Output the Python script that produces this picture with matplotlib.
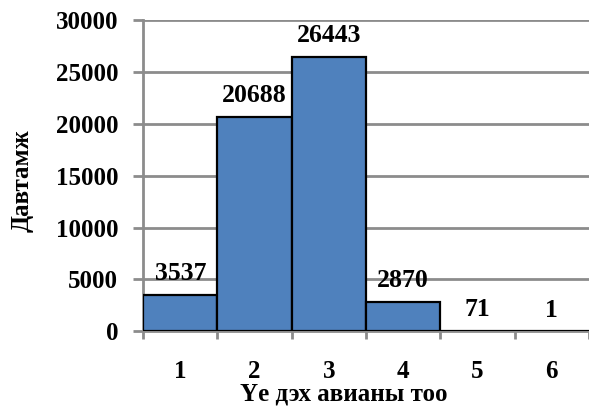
import matplotlib

matplotlib.use("Agg")
import matplotlib.pyplot as plt

# phonemes per syllable vs. frequency
CATEGORIES = [1, 2, 3, 4, 5, 6]
COUNTS = [3537, 20688, 26443, 2870, 71, 1]

FONT = ["Liberation Serif", "DejaVu Serif"]
plt.rcParams["font.family"] = FONT
plt.rcParams["font.weight"] = "bold"

BAR_COLOR = "#4F81BD"
GRID_COLOR = "#8C8C8C"

fig = plt.figure(figsize=(5.89, 4.07), dpi=100)
ax = fig.add_axes([0.243, 0.186, 0.757, 0.764])

ax.bar(CATEGORIES, COUNTS, width=1.0, color=BAR_COLOR,
       edgecolor="black", linewidth=1.6, zorder=3)

for x, v in zip(CATEGORIES, COUNTS):
    ax.annotate(str(v), (x, v), xytext=(0, 7), textcoords="offset points",
                ha="center", va="bottom", fontsize=18.5, fontweight="bold")

ax.set_xlim(0.5, 6.5)
ax.set_ylim(0, 30000)
ax.set_yticks(range(0, 30001, 5000))

# category labels sit between the boundary ticks
ax.set_xticks([c - 0.5 for c in CATEGORIES] + [CATEGORIES[-1] + 0.5])
ax.set_xticklabels([])
ax.set_xticks(CATEGORIES, minor=True)
ax.set_xticklabels([str(c) for c in CATEGORIES], minor=True)
ax.tick_params(axis="x", which="minor", length=0, pad=21, labelsize=18)
ax.tick_params(axis="x", which="major", length=6, width=2, color=GRID_COLOR)
ax.tick_params(axis="y", length=7, width=2, color=GRID_COLOR, labelsize=18, pad=11)

ax.yaxis.grid(True, color=GRID_COLOR, linewidth=2, zorder=0)
ax.set_axisbelow(True)
for side in ("top", "right"):
    ax.spines[side].set_visible(False)
for side in ("left", "bottom"):
    ax.spines[side].set_color(GRID_COLOR)
    ax.spines[side].set_linewidth(2)

ax.set_ylabel("Давтамж", fontsize=18, fontweight="bold")
ax.set_xlabel("Үе дэх авианы тоо", fontsize=18, fontweight="bold")
ax.yaxis.set_label_coords(-0.245, 0.485)
ax.xaxis.set_label_coords(0.45, -0.165)

fig.savefig("out.png", dpi=100)
